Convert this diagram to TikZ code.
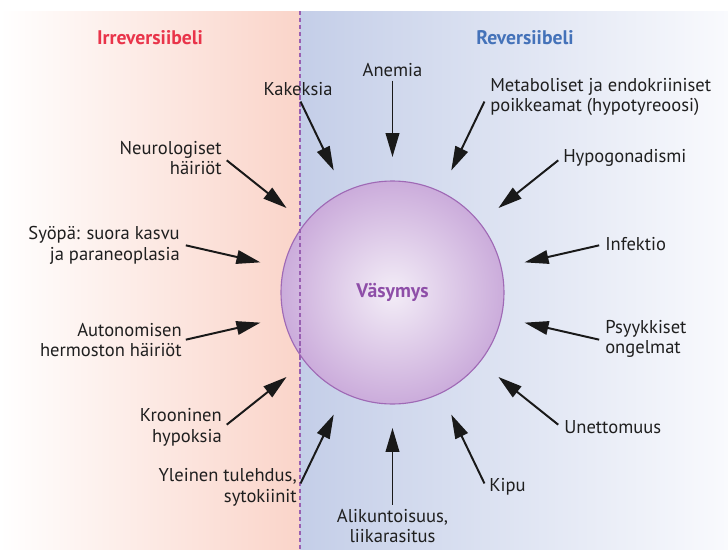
\documentclass[tikz,border=0pt]{standalone}
\usepackage{fontspec}
\setsansfont{PT Sans}
\usetikzlibrary{arrows.meta,positioning}
\definecolor{irrRed}{RGB}{233,52,74}
\definecolor{revBlue}{RGB}{68,114,185}
\definecolor{irrBg}{RGB}{250,212,201}
\definecolor{revBg}{RGB}{196,206,232}
\definecolor{revEnd}{RGB}{249,250,253}
\definecolor{fatPurple}{RGB}{142,78,168}
\definecolor{fatEdge}{RGB}{203,172,219}
\definecolor{fatCore}{RGB}{243,237,247}
\tikzset{fatigue/.style={
  font=\sffamily,
  head/.style={font=\sffamily\bfseries\fontsize{14}{16}\selectfont, inner sep=0pt},
  lab/.style={font=\sffamily\fontsize{13.2}{14.6}\selectfont, inner sep=0pt, text=black!88},
  fat/.style={circle, minimum size=5.575cm, inner sep=0pt, draw=fatPurple!85, line width=0.8pt,
    inner color=fatCore, outer color=fatEdge, text=fatPurple, font=\sffamily\bfseries\fontsize{14}{16}\selectfont},
  pil/.style={-{Triangle[length=6mm, width=3.4mm]}, line width=1.4pt, black!90, shorten >=0.585cm},
  divider/.style={fatPurple!90, line width=1pt, dash pattern=on 3pt off 2pt},
}}

\begin{document}
\begin{tikzpicture}[fatigue]
\useasboundingbox (-9.8125,-6.4125) rectangle (8.3875,7.3125);

% ---- background panels ----
\shade[left color=white, right color=irrBg] (-9.8125,-6.4125) rectangle (-2.3125,7.0375);
\shade[left color=revBg, right color=revEnd] (-2.3125,-6.4125) rectangle (8.3875,7.0375);

% ---- headings ----
\node[head, text=irrRed]  (irr) at (-6.0625,6.3625) {Irreversiibeli};
\node[head, text=revBlue] (rev) at (3.3125,6.3625)  {Reversiibeli};

% ---- central circle ----
\node[fat] (fat) at (0,0) {Väsymys};

% ---- dashed border between the two panels ----
\coordinate (divtop) at (-2.3125,7.0375);
\coordinate (divbot) at (-2.3125,-6.4125);
\draw[divider] (divtop) -- (divbot);

% ---- fourteen arrows, evenly spaced round the circle ----
\foreach \i in {0,...,13}{
  \coordinate (s\i) at ({90-\i*360/14}:5.3);
  \draw[pil] (s\i) -- (fat);
}

% ---- labels, clockwise from the top ----
\node[lab] (anemia) at (0,5.5625) {Anemia};
\node[lab, anchor=west, align=left] (metab) at (2.4375,4.8875) {Metaboliset ja endokriiniset\\poikkeamat (hypotyreoosi)};
\node[lab, anchor=west] (hypog) at (4.2625,3.3625) {Hypogonadismi};
\node[lab, anchor=west] (infek) at (5.3125,1.2125) {Infektio};
\node[lab, anchor=west, align=left] (psyyk) at (5.3125,-1.1625) {Psyykkiset\\ongelmat};
\node[lab, anchor=west] (unett) at (4.2875,-3.3625) {Unettomuus};
\node[lab, anchor=west] (kipu) at (2.4125,-4.8625) {Kipu};
\node[lab, align=center] (alik) at (0,-5.8375) {Alikuntoisuus,\\liikarasitus};
\node[lab, anchor=east, align=right] (yleinen) at (-2.3875,-4.875) {Yleinen tulehdus,\\sytokiinit};
\node[lab, anchor=east, align=right] (hypoks) at (-4.2625,-3.375) {Krooninen\\hypoksia};
\node[lab, anchor=east, align=right] (auton) at (-5.2625,-1.1875) {Autonomisen\\hermoston häiriöt};
\node[lab, anchor=east, align=right] (syopa) at (-5.3125,1.175) {Syöpä: suora kasvu\\ja paraneoplasia};
\node[lab, anchor=east, align=right] (neuro) at (-4.2625,3.3625) {Neurologiset\\häiriöt};
\node[lab] (kakek) at (-2.3625,5.0875) {Kakeksia};
\end{tikzpicture}
\end{document}
